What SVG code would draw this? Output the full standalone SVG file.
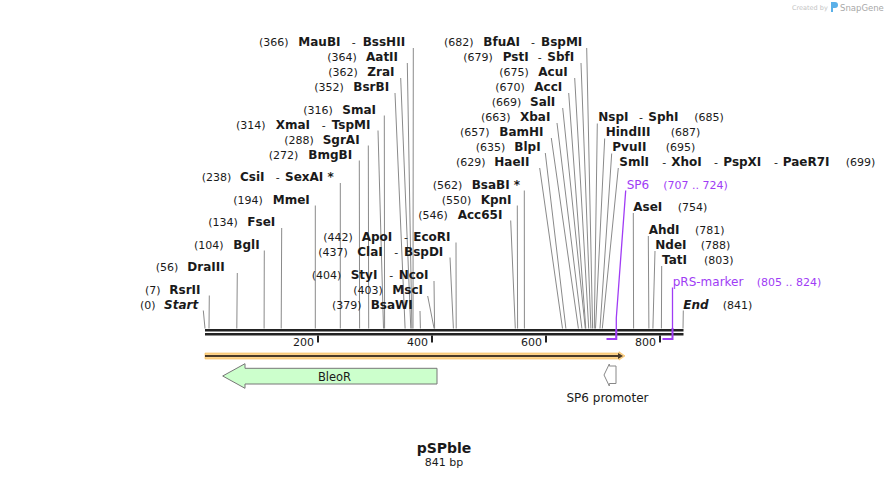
<svg xmlns="http://www.w3.org/2000/svg" width="889" height="479" viewBox="0 0 889 479">
<style>
text{font-family:"DejaVu Sans","Liberation Sans",sans-serif;font-size:11px;fill:#1a1a1a}
.b{font-weight:bold;font-size:12px}
.bi{font-weight:bold;font-style:italic;font-size:12px}
.pu{fill:#a03cf5}
.pl{font-size:12px}
.cut line{stroke:#8a8a8a;stroke-width:1}
.feat{fill:none;stroke:#a03cf5}
</style>
<rect width="889" height="479" fill="#fff"/>

<g id="logo">
<text x="792" y="10" style="font-size:6.5px;fill:#c4c4c4">Created by</text>
<path d="M831,2 h4 a3,3 0 0 1 0,6 h-2 v4 h-2 z" fill="#5ab0e8"/>
<text x="840" y="11" style="font-size:8.5px;fill:#a8a8a8">SnapGene</text>
</g>

<g id="connectors" class="cut">
<line x1="413.3" y1="48" x2="413" y2="328.5"/>
<line x1="407.3" y1="63" x2="411.9" y2="328.5"/>
<line x1="400.7" y1="78" x2="410.8" y2="328.5"/>
<line x1="395" y1="93" x2="405.1" y2="328.5"/>
<line x1="384.3" y1="115.5" x2="384.6" y2="328.5"/>
<line x1="378" y1="130.5" x2="383.5" y2="328.5"/>
<line x1="368.3" y1="145.5" x2="368.7" y2="328.5"/>
<line x1="359.3" y1="160.5" x2="359.6" y2="328.5"/>
<line x1="340.3" y1="183" x2="340.3" y2="328.5"/>
<line x1="315.3" y1="205.5" x2="315.3" y2="328.5"/>
<line x1="281.7" y1="228" x2="281.2" y2="328.5"/>
<line x1="264.3" y1="250.5" x2="264.1" y2="328.5"/>
<line x1="237.3" y1="273" x2="236.8" y2="328.5"/>
<line x1="209.3" y1="295.5" x2="209" y2="328.5"/>
<line x1="203.3" y1="310.5" x2="205" y2="328.5"/>
<line x1="456" y1="242.5" x2="456.2" y2="328.5"/>
<line x1="450" y1="257.5" x2="453.4" y2="328.5"/>
<line x1="434" y1="281" x2="434.6" y2="328.5"/>
<line x1="427.7" y1="296" x2="434.1" y2="328.5"/>
<line x1="420" y1="311" x2="420.4" y2="328.5"/>
<line x1="524.3" y1="190.5" x2="524.4" y2="328.5"/>
<line x1="517.3" y1="205.5" x2="517.6" y2="328.5"/>
<line x1="510.7" y1="220.5" x2="515.3" y2="328.5"/>
<line x1="586.7" y1="48" x2="592.6" y2="328.5"/>
<line x1="581" y1="63" x2="590.9" y2="328.5"/>
<line x1="574.7" y1="78" x2="588.7" y2="328.5"/>
<line x1="568.7" y1="93" x2="585.8" y2="328.5"/>
<line x1="562.7" y1="108" x2="585.3" y2="328.5"/>
<line x1="557" y1="123" x2="581.9" y2="328.5"/>
<line x1="551.3" y1="138" x2="578.4" y2="328.5"/>
<line x1="545.3" y1="153" x2="565.9" y2="328.5"/>
<line x1="539.7" y1="168" x2="562.5" y2="328.5"/>
<line x1="597.3" y1="123.5" x2="594.3" y2="328.5"/>
<line x1="604.7" y1="138.5" x2="595.5" y2="328.5"/>
<line x1="611.7" y1="153.5" x2="600" y2="328.5"/>
<line x1="618.3" y1="168" x2="602.3" y2="328.5"/>
<line x1="633.3" y1="213" x2="633.6" y2="328.5"/>
<line x1="648.3" y1="236" x2="648.9" y2="328.5"/>
<line x1="655" y1="251" x2="652.9" y2="328.5"/>
<line x1="661.7" y1="266" x2="661.4" y2="328.5"/>
<line x1="683.3" y1="310.5" x2="683" y2="328.5"/>
</g>

<g id="backbone">
<rect x="205" y="329" width="478.5" height="2.5" fill="#222"/>
<rect x="205" y="333" width="478.5" height="2.5" fill="#222"/>
<rect x="317" y="335.5" width="2" height="7" fill="#222"/>
<rect x="431" y="335.5" width="2" height="7" fill="#222"/>
<rect x="545" y="335.5" width="2" height="7" fill="#222"/>
<rect x="659" y="335.5" width="2" height="7" fill="#222"/>
<text x="314" y="346" text-anchor="end">200</text>
<text x="428" y="346" text-anchor="end">400</text>
<text x="542" y="346" text-anchor="end">600</text>
<text x="656" y="346" text-anchor="end">800</text>
</g>

<g id="feature-SP6">
<polyline class="feat" stroke-width="1.3" points="625.7,190.5 616.3,318 616.3,339"/>
<polyline class="feat" stroke-width="2" points="616.3,329 616.3,339 606.5,339"/>
<text y="188.5" class="pu"><tspan x="626.7" class="pl">SP6</tspan><tspan x="663.3">(707 .. 724)</tspan></text>
</g>
<g id="feature-pRS-marker">
<polyline class="feat" stroke-width="1.3" points="672.5,287.5 672.5,329"/>
<polyline class="feat" stroke-width="2" points="672.5,328 672.5,339 662.5,339"/>
<text y="286" class="pu"><tspan x="672.7" class="pl">pRS-marker</tspan><tspan x="756.7">(805 .. 824)</tspan></text>
</g>

<g id="orange-arrow">
<path d="M205,353 H619 V351.7 L625,355.9 L619,360.1 V359 H205 Z" fill="#fcd38c" stroke="#f5b850" stroke-width="0.6"/>
<line x1="205" y1="356" x2="619" y2="356" stroke="#4a3a28" stroke-width="1.8"/>
<path d="M618,353 L623,356 L618,359 Z" fill="#4a3a28"/>
</g>

<g id="BleoR">
<path d="M437,368.3 H245 V363.7 L222.7,376 L245,388.3 V384 H437 Z" fill="#ccffcc" stroke="#777" stroke-width="1"/>
<text x="334.5" y="380.5" text-anchor="middle" style="font-size:11.5px">BleoR</text>
</g>

<g id="SP6-promoter">
<path d="M616,366 H609.3 V364 L604,375 L609.3,386 V383.5 H616 Z" fill="#fff" stroke="#888" stroke-width="1"/>
<text x="607.5" y="402" text-anchor="middle" style="font-size:12px">SP6 promoter</text>
</g>

<g id="title">
<text x="444" y="453" text-anchor="middle" style="font-weight:bold;font-size:14px">pSPble</text>
<text x="444" y="466" text-anchor="middle">841 bp</text>
</g>

<g id="site-MauBI"><text y="46"><tspan x="259">(366)</tspan><tspan x="298.3" class="b">MauBI</tspan><tspan x="351.7">-</tspan><tspan x="362.7" class="b">BssHII</tspan></text></g>
<g id="site-AatII"><text y="61"><tspan x="327.3">(364)</tspan><tspan x="366" class="b">AatII</tspan></text></g>
<g id="site-ZraI"><text y="76"><tspan x="328.3">(362)</tspan><tspan x="367.3" class="b">ZraI</tspan></text></g>
<g id="site-BsrBI"><text y="91"><tspan x="314.3">(352)</tspan><tspan x="353.3" class="b">BsrBI</tspan></text></g>
<g id="site-SmaI"><text y="113.5"><tspan x="303.3">(316)</tspan><tspan x="342.3" class="b">SmaI</tspan></text></g>
<g id="site-XmaI"><text y="128.5"><tspan x="236">(314)</tspan><tspan x="275.7" class="b">XmaI</tspan><tspan x="321.7">-</tspan><tspan x="331.7" class="b">TspMI</tspan></text></g>
<g id="site-SgrAI"><text y="143.5"><tspan x="284.3">(288)</tspan><tspan x="322.7" class="b">SgrAI</tspan></text></g>
<g id="site-BmgBI"><text y="158.5"><tspan x="268.7">(272)</tspan><tspan x="308.3" class="b">BmgBI</tspan></text></g>
<g id="site-CsiI"><text y="181"><tspan x="201.7">(238)</tspan><tspan x="240" class="b">CsiI</tspan><tspan x="275.7">-</tspan><tspan x="285" class="b">SexAI *</tspan></text></g>
<g id="site-MmeI"><text y="203.5"><tspan x="233.3">(194)</tspan><tspan x="272.7" class="b">MmeI</tspan></text></g>
<g id="site-FseI"><text y="225.5"><tspan x="208.3">(134)</tspan><tspan x="247.3" class="b">FseI</tspan></text></g>
<g id="site-BglI"><text y="248.5"><tspan x="194">(104)</tspan><tspan x="233.3" class="b">BglI</tspan></text></g>
<g id="site-DraIII"><text y="271"><tspan x="155.7">(56)</tspan><tspan x="187.3" class="b">DraIII</tspan></text></g>
<g id="site-RsrII"><text y="293.5"><tspan x="145">(7)</tspan><tspan x="169.3" class="b">RsrII</tspan></text></g>
<g id="site-Start"><text y="308.5"><tspan x="140">(0)</tspan><tspan x="164" class="bi">Start</tspan></text></g>
<g id="site-ApoI"><text y="240.5"><tspan x="323.3">(442)</tspan><tspan x="361.7" class="b">ApoI</tspan><tspan x="404">-</tspan><tspan x="413.3" class="b">EcoRI</tspan></text></g>
<g id="site-ClaI"><text y="255.5"><tspan x="318.3">(437)</tspan><tspan x="357.3" class="b">ClaI</tspan><tspan x="394.3">-</tspan><tspan x="404" class="b">BspDI</tspan></text></g>
<g id="site-StyI"><text y="279"><tspan x="311.7">(404)</tspan><tspan x="350.7" class="b">StyI</tspan><tspan x="389.3">-</tspan><tspan x="398.7" class="b">NcoI</tspan></text></g>
<g id="site-MscI"><text y="294"><tspan x="353.3">(403)</tspan><tspan x="392.3" class="b">MscI</tspan></text></g>
<g id="site-BsaWI"><text y="309"><tspan x="332">(379)</tspan><tspan x="370.7" class="b">BsaWI</tspan></text></g>
<g id="site-BsaBI"><text y="188.5"><tspan x="432.7">(562)</tspan><tspan x="471.7" class="b">BsaBI *</tspan></text></g>
<g id="site-KpnI"><text y="203.5"><tspan x="441.7">(550)</tspan><tspan x="480.7" class="b">KpnI</tspan></text></g>
<g id="site-Acc65I"><text y="218.5"><tspan x="418.3">(546)</tspan><tspan x="457.7" class="b">Acc65I</tspan></text></g>
<g id="site-BfuAI"><text y="46"><tspan x="444">(682)</tspan><tspan x="483.3" class="b">BfuAI</tspan><tspan x="531">-</tspan><tspan x="541" class="b">BspMI</tspan></text></g>
<g id="site-PstI"><text y="61"><tspan x="463.3">(679)</tspan><tspan x="502.7" class="b">PstI</tspan><tspan x="537.7">-</tspan><tspan x="547.3" class="b">SbfI</tspan></text></g>
<g id="site-AcuI"><text y="76"><tspan x="499.3">(675)</tspan><tspan x="538.3" class="b">AcuI</tspan></text></g>
<g id="site-AccI"><text y="91"><tspan x="495.3">(670)</tspan><tspan x="534.3" class="b">AccI</tspan></text></g>
<g id="site-SalI"><text y="106"><tspan x="491.7">(669)</tspan><tspan x="530" class="b">SalI</tspan></text></g>
<g id="site-XbaI"><text y="121"><tspan x="481">(663)</tspan><tspan x="520" class="b">XbaI</tspan></text></g>
<g id="site-BamHI"><text y="136"><tspan x="460">(657)</tspan><tspan x="499.3" class="b">BamHI</tspan></text></g>
<g id="site-BlpI"><text y="151"><tspan x="475.7">(635)</tspan><tspan x="514.3" class="b">BlpI</tspan></text></g>
<g id="site-HaeII"><text y="166"><tspan x="456">(629)</tspan><tspan x="494.3" class="b">HaeII</tspan></text></g>
<g id="site-NspI"><text y="121"><tspan x="598.3" class="b">NspI</tspan><tspan x="639">-</tspan><tspan x="648.3" class="b">SphI</tspan><tspan x="694.3">(685)</tspan></text></g>
<g id="site-HindIII"><text y="136"><tspan x="605.7" class="b">HindIII</tspan><tspan x="670.7">(687)</tspan></text></g>
<g id="site-PvuII"><text y="151"><tspan x="612.3" class="b">PvuII</tspan><tspan x="665.7">(695)</tspan></text></g>
<g id="site-SmlI"><text y="166"><tspan x="619.3" class="b">SmlI</tspan><tspan x="662.3">-</tspan><tspan x="671.3" class="b">XhoI</tspan><tspan x="714">-</tspan><tspan x="723.3" class="b">PspXI</tspan><tspan x="774">-</tspan><tspan x="782.7" class="b">PaeR7I</tspan><tspan x="845.7">(699)</tspan></text></g>
<g id="site-AseI"><text y="211"><tspan x="633.3" class="b">AseI</tspan><tspan x="677.7">(754)</tspan></text></g>
<g id="site-AhdI"><text y="234"><tspan x="648.7" class="b">AhdI</tspan><tspan x="695">(781)</tspan></text></g>
<g id="site-NdeI"><text y="249"><tspan x="655.3" class="b">NdeI</tspan><tspan x="700.7">(788)</tspan></text></g>
<g id="site-TatI"><text y="263.7"><tspan x="662" class="b">TatI</tspan><tspan x="704">(803)</tspan></text></g>
<g id="site-End"><text y="308.5"><tspan x="683.3" class="bi">End</tspan><tspan x="722.7">(841)</tspan></text></g>
</svg>
